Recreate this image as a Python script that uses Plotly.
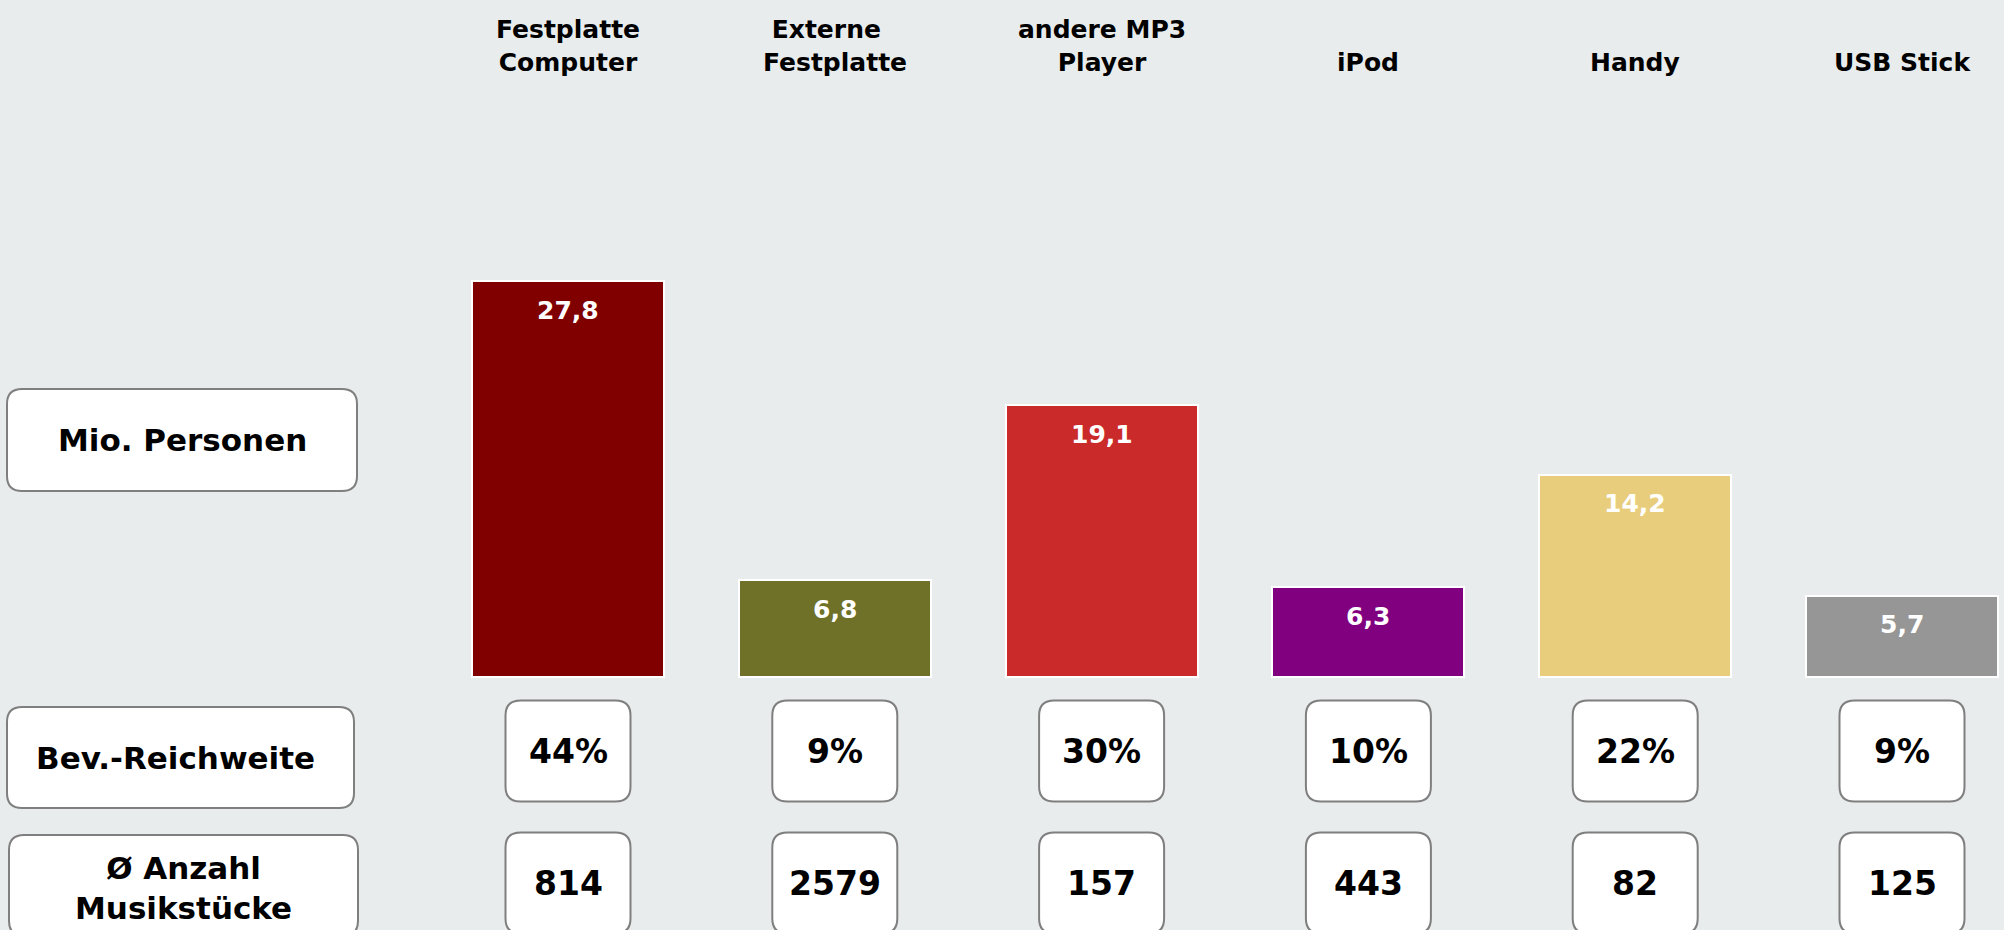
import plotly.graph_objects as go

categories = ["Festplatte<br>Computer", "Externe&nbsp;&nbsp;<br>Festplatte", "andere MP3<br>Player",
              "iPod", "Handy", "USB Stick"]
mio_personen = [27.8, 6.8, 19.1, 6.3, 14.2, 5.7]
reichweite = ["44%", "9%", "30%", "10%", "22%", "9%"]
anzahl = ["814", "2579", "157", "443", "82", "125"]
row_labels = ["Mio. Personen", "Bev.-Reichweite", "Ø Anzahl<br>Musikstücke"]
bar_colors = ["#800000", "#6F7128", "#CB2A2A", "#800080", "#E8CE7C", "#969696"]

W, H = 2004, 930
BG = "#E8ECED"
FONT = "DejaVu Sans"

# pixel layout of the axes
x0_px, x_step = 568, 266.8
y0_px, y_unit = 677, 14.24
xr = [-x0_px / x_step, (W - x0_px) / x_step]
yr = [-(H - y0_px) / y_unit, y0_px / y_unit]


def py(p):
    # pixel from top -> paper y
    return 1 - p / H


def rounded(x0, x1, y0, y1, rx, ry):
    return (f"M {x0 + rx},{y0} L {x1 - rx},{y0} Q {x1},{y0} {x1},{y0 + ry} "
            f"L {x1},{y1 - ry} Q {x1},{y1} {x1 - rx},{y1} L {x0 + rx},{y1} "
            f"Q {x0},{y1} {x0},{y1 - ry} L {x0},{y0 + ry} Q {x0},{y0} {x0 + rx},{y0} Z")


xs = list(range(len(categories)))
fig = go.Figure()
fig.add_trace(go.Bar(
    x=xs, y=mio_personen, width=0.72,
    marker=dict(color=bar_colors, line=dict(color="white", width=2)),
    hoverinfo="skip", showlegend=False,
))

shapes, annots = [], []
box_style = dict(type="path", fillcolor="white", line=dict(color="#7F7F7F", width=2), layer="below")

# row label boxes on the left
for lab, (bx0, bx1, by0, by1), (tx, ty) in zip(
        row_labels,
        [(7, 357, 389, 491), (7, 354, 707, 808), (9, 358, 835, 936)],
        [(182, 440), (175, 758), (183, 888)]):
    shapes.append(dict(box_style, xref="paper", yref="paper",
                       path=rounded(bx0 / W, bx1 / W, py(by1), py(by0), 15 / W, 15 / H)))
    annots.append(dict(xref="paper", yref="paper", x=tx / W, y=py(ty), text=lab, showarrow=False,
                       font=dict(size=31, color="black", family=FONT, weight="bold"),
                       xanchor="center", yanchor="middle"))

bw, bh = 125 / x_step, 101
for i, cat in enumerate(categories):
    # category heading, bottom-aligned so one-line labels sit on the second line
    annots.append(dict(xref="x", yref="paper", x=i, y=py(79), text=cat, showarrow=False,
                       font=dict(size=25, color="black", family=FONT, weight="bold"),
                       xanchor="center", yanchor="bottom"))
    # value inside bar
    annots.append(dict(xref="x", yref="y", x=i, y=mio_personen[i],
                       text=f"{mio_personen[i]:.1f}".replace(".", ","), showarrow=False, yshift=-29,
                       font=dict(size=25, color="white", family=FONT, weight="bold"),
                       xanchor="center", yanchor="middle"))
    for txt, cy in [(reichweite[i], 751), (anzahl[i], 883)]:
        shapes.append(dict(box_style, xref="x", yref="paper",
                           path=rounded(i - bw / 2, i + bw / 2, py(cy + bh / 2), py(cy - bh / 2),
                                        15 / x_step, 15 / H)))
        annots.append(dict(xref="x", yref="paper", x=i, y=py(cy), text=txt, showarrow=False,
                           font=dict(size=33, color="black", family=FONT, weight="bold"),
                           xanchor="center", yanchor="middle"))

fig.update_layout(
    width=W, height=H, margin=dict(l=0, r=0, t=0, b=0),
    paper_bgcolor=BG, plot_bgcolor=BG,
    xaxis=dict(range=xr, visible=False, fixedrange=True),
    yaxis=dict(range=yr, visible=False, fixedrange=True),
    shapes=shapes, annotations=annots, bargap=0,
)
fig.write_html("out.html", config={"displayModeBar": False},
               post_script="document.body.style.margin='0px';document.body.style.overflow='hidden';")
